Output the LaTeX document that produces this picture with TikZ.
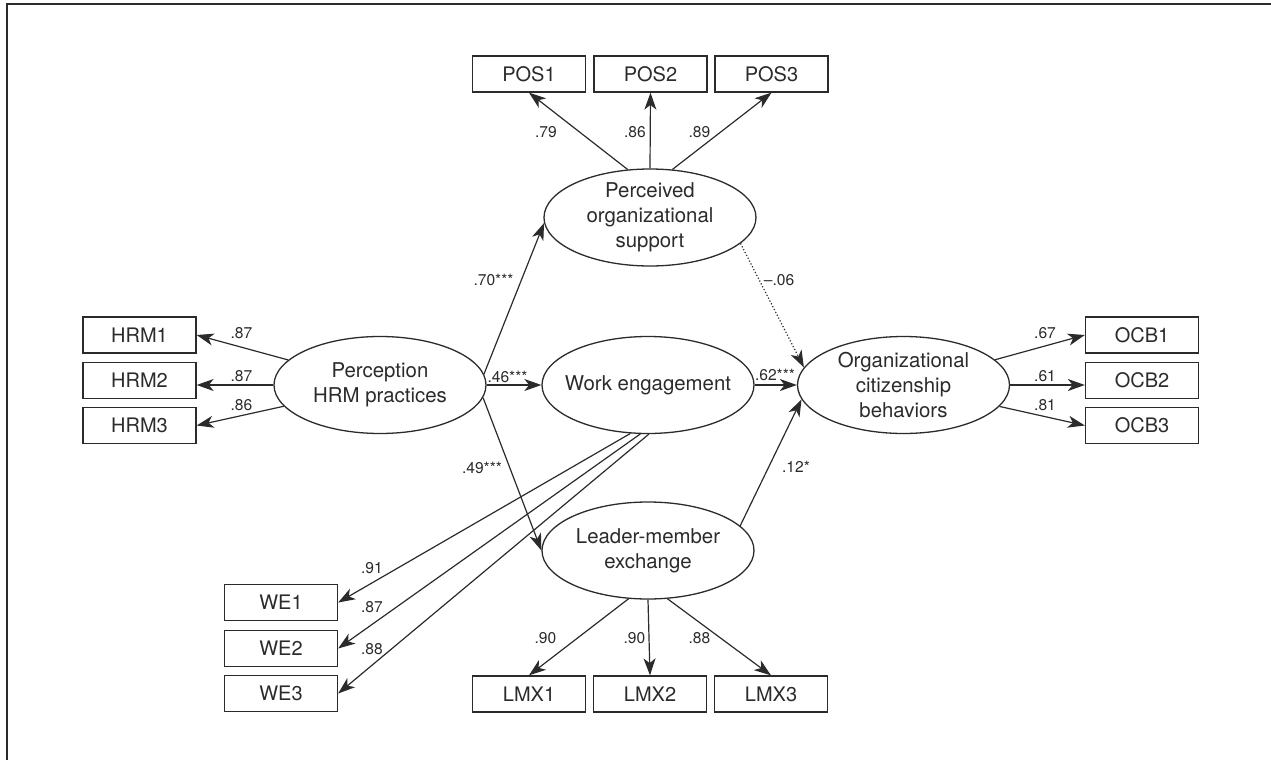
\documentclass[tikz,border=0pt]{standalone}
\usepackage{fontspec}
\setmainfont{TeX Gyre Heros}
\usetikzlibrary{arrows.meta,shapes.geometric}
\definecolor{ink}{HTML}{2B2B2B}
\tikzset{
  item/.style={draw=ink,line width=0.65pt,minimum width=56.5pt,minimum height=18pt,inner sep=0pt,text=ink,font=\fontsize{10}{12}\selectfont},
  latent/.style={ellipse,draw=ink,line width=0.65pt,minimum width=106pt,minimum height=48.5pt,inner sep=-8pt,align=center,text=ink,font=\fontsize{10.2}{12.4}\selectfont},
  coef/.style={inner sep=0pt,text height=5.6pt,text depth=0pt,text=ink,font=\fontsize{7.8}{9}\selectfont},
  link/.style={draw=ink,line width=0.6pt,-{Stealth[length=8.5pt,width=6pt,inset=2.4pt]}}
}
\begin{document}
\begin{tikzpicture}[x=0.5pt,y=-0.5pt]
 \useasboundingbox (0,0) rectangle (1271,760);
 \draw[ink,line width=1pt] (7,760)--(7,4)--(1271,4);
 \node[latent] (pos) at (650,217.5) {Perceived\\organizational\\support};
 \node[latent] (hrm) at (380,385) {Perception\\HRM practices};
 \node[latent] (we) at (648,385) {Work engagement};
 \node[latent] (lmx) at (648,550.5) {Leader-member\\exchange};
 \node[latent] (ocb) at (903.5,385) {Organizational\\citizenship\\behaviors};
 \foreach \n/\lab/\x/\y in {pos1/POS1/529/74,pos2/POS2/650.5/74,pos3/POS3/771.5/74,
   hrm1/HRM1/139.5/335,hrm2/HRM2/139.5/380.5,hrm3/HRM3/139.5/425.5,
   ocb1/OCB1/1142/335,ocb2/OCB2/1142/380.5,ocb3/OCB3/1142/425.5,
   we1/WE1/281/602.5,we2/WE2/281/648.5,we3/WE3/281/693.5,
   lmx1/LMX1/529/694,lmx2/LMX2/650/694,lmx3/LMX3/771/694}
   \node[item] (\n) at (\x,\y) {\lab};
 \foreach \a/\b in {pos.115/pos1.south,pos.north/pos2.south,pos.65/pos3.south,
   hrm/hrm1.east,hrm/hrm3.east,ocb/ocb1.west,ocb/ocb3.west,
   we.250/we1.east,we.261/we2.east,we.271/we3.east,
   lmx.248/lmx1.north,lmx.south/lmx2.north,lmx.292/lmx3.north,
   hrm.6/pos.183,hrm.east/we.west,hrm.-7/lmx.west,
   we.east/ocb.west,lmx.15/ocb.188}
   \draw[link] (\a) -- (\b);
 \draw[link] (hrm.west) -- (hrm.west -| hrm2.east);
 \draw[link] (ocb.east) -- (ocb.east -| ocb2.west);
 \draw[link,dash pattern=on 0.6pt off 1pt] (pos.-16) -- (ocb.170);
 \foreach \n/\x/\y/\lab in {w-pos1/546/131.7/.79,w-pos2/635/131.7/.86,w-pos3/699.5/131.7/.89,
   w-hrm1/241.5/333/.87,w-hrm2/241.5/376/.87,w-hrm3/241.5/405/.86,
   w-ocb1/1045/333/.67,w-ocb2/1045/376/.61,w-ocb3/1045/405/.81,
   w-we1/372/568/.91,w-we2/372/607/.87,w-we3/372/649/.88,
   w-lmx1/545.5/638/.90,w-lmx2/634.5/638/.90,w-lmx3/699.5/638/.88,
   b-pos/493.5/280/.70***,b-we/507.5/376.7/.46***,
   b-lmx/482/468/.49***,b-ocb/775/374.7/.62***,
   b-dot/779/280/–.06,b-lmxocb/796/467/.12*}
   \node[coef] (\n) at (\x,\y) {\lab};
\end{tikzpicture}
\end{document}
